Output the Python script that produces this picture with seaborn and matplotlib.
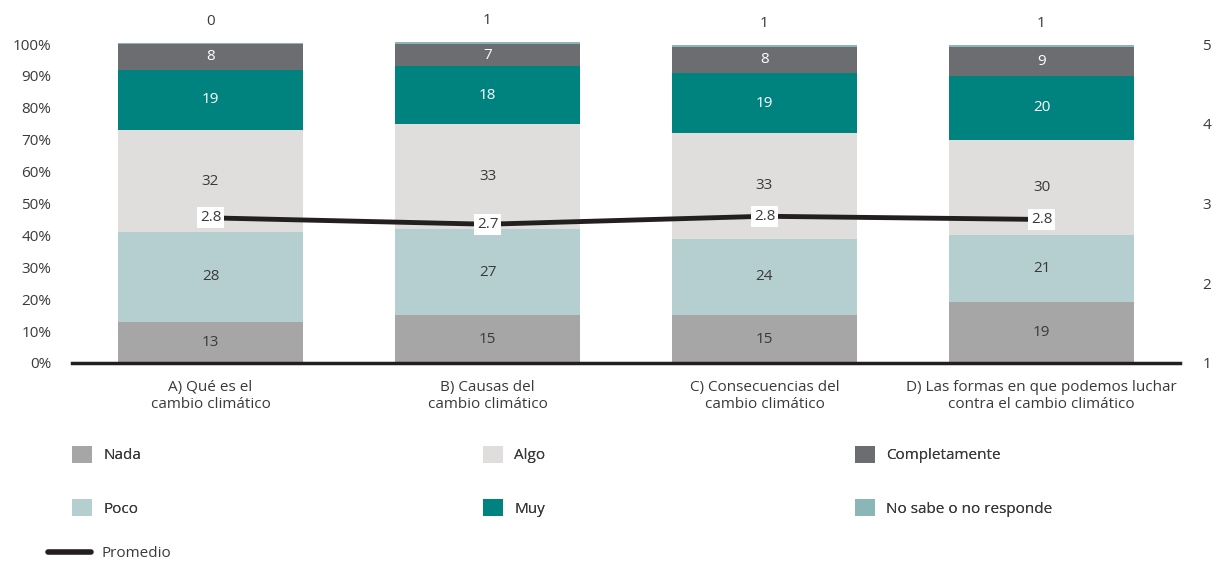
import numpy as np
import pandas as pd
import matplotlib
matplotlib.use("Agg")
import matplotlib.pyplot as plt
import seaborn as sns
from matplotlib.patches import Patch
from matplotlib.lines import Line2D

categories = ["A) Qué es el\ncambio climático",
              "B) Causas del\ncambio climático",
              "C) Consecuencias del\ncambio climático",
              "D) Las formas en que podemos luchar\ncontra el cambio climático"]
nada = [13, 15, 15, 19]
poco = [28, 27, 24, 21]
algo = [32, 33, 33, 30]
muy = [19, 18, 19, 20]
completamente = [8, 7, 8, 9]
no_sabe = [0.4, 0.6, 0.6, 0.7]
no_sabe_labels = ["0", "1", "1", "1"]
promedio = [2.82, 2.74, 2.84, 2.80]

series_names = ["Nada", "Poco", "Algo", "Muy", "Completamente", "No sabe o no responde"]
series_values = [nada, poco, algo, muy, completamente, no_sabe]
colors = ["#a6a6a6", "#b5cfd1", "#dfdedd", "#00827f", "#6c6d70", "#8bb6b7"]
text_colors = ["#3a3a3a", "#3a3a3a", "#3a3a3a", "#ffffff", "#ffffff", None]

sns.set_theme(style="white")
plt.rcParams["font.family"] = ["Open Sans", "DejaVu Sans"]
plt.rcParams["text.color"] = "#3a3a3a"

fig = plt.figure(figsize=(12.2, 5.63), dpi=100)
ax = fig.add_axes([72 / 1220, 1 - 363 / 563, 1108 / 1220, 319 / 563])

df = pd.DataFrame({"cat": categories})
cum = np.zeros(len(categories))
cums = []
for vals in series_values:
    cum = cum + np.array(vals)
    cums.append(cum.copy())

# draw cumulative bars from the top layer down so each covers the one below
for i in reversed(range(len(series_values))):
    d = df.copy()
    d["v"] = cums[i]
    sns.barplot(data=d, x="cat", y="v", color=colors[i], saturation=1,
                width=0.67, ax=ax, linewidth=0, clip_on=False)

for i, vals in enumerate(series_values[:-1]):
    for j, v in enumerate(vals):
        center = cums[i][j] - v / 2
        ax.text(j, center, str(v), ha="center", va="center", fontsize=11,
                color=text_colors[i])
for j, lab in enumerate(no_sabe_labels):
    ax.annotate(lab, (j, cums[-1][j]), xytext=(0, 10), textcoords="offset points",
                ha="center", va="bottom", fontsize=11, color="#3a3a3a",
                annotation_clip=False)

ax.set_ylim(0, 100)
ax.set_xlim(-0.5, 3.5)
ax.set_yticks(range(0, 101, 10))
ax.set_yticklabels([f"{t}%" for t in range(0, 101, 10)])
ax.set_xlabel("")
ax.set_ylabel("")
ax.tick_params(axis="y", length=0, pad=15, labelsize=11, labelcolor="#3a3a3a")
ax.tick_params(axis="x", length=0, pad=12, labelsize=11, labelcolor="#3a3a3a")
for s in ["top", "left", "right"]:
    ax.spines[s].set_visible(False)
ax.spines["bottom"].set_color("#231f20")
ax.spines["bottom"].set_linewidth(2.5)
ax.spines["bottom"].set_zorder(5)

ax2 = ax.twinx()
sns.lineplot(x=np.arange(len(categories)), y=promedio, ax=ax2, color="#231f20",
             linewidth=3.5, solid_capstyle="round")
for j, v in enumerate(promedio):
    ax2.text(j, v, f"{v:.1f}", ha="center", va="center", fontsize=11, color="#3a3a3a",
             bbox=dict(boxstyle="square,pad=0.2", facecolor="white", edgecolor="none"))
ax2.set_ylim(1, 5)
ax2.set_yticks([1, 2, 3, 4, 5])
ax2.tick_params(axis="y", length=0, pad=16, labelsize=11, labelcolor="#3a3a3a")
for s in ax2.spines.values():
    s.set_visible(False)
ax2.set_xlim(-0.5, 3.5)

# legend: one block per column, placed like the original
legend_cols = [(72, [0, 1]), (483, [2, 3]), (855, [4, 5])]
for x0, idx in legend_cols:
    leg = fig.legend([Patch(facecolor=colors[k], edgecolor="none") for k in idx],
                     [series_names[k] for k in idx], loc="upper left",
                     bbox_to_anchor=(x0 / 1220, 1 - 446 / 563), frameon=False,
                     fontsize=11, handlelength=1.3, handleheight=1.3,
                     handletextpad=0.75, labelspacing=2.35,
                     borderpad=0, borderaxespad=0)
    fig.add_artist(leg)
fig.legend([Line2D([0], [0], color="#231f20", linewidth=4, solid_capstyle="round")],
           ["Promedio"], loc="upper left", bbox_to_anchor=(48 / 1220, 1 - 546 / 563),
           frameon=False, fontsize=11, handlelength=2.8, handletextpad=0.7,
           borderpad=0, borderaxespad=0)

fig.savefig("out.png", dpi=100)
